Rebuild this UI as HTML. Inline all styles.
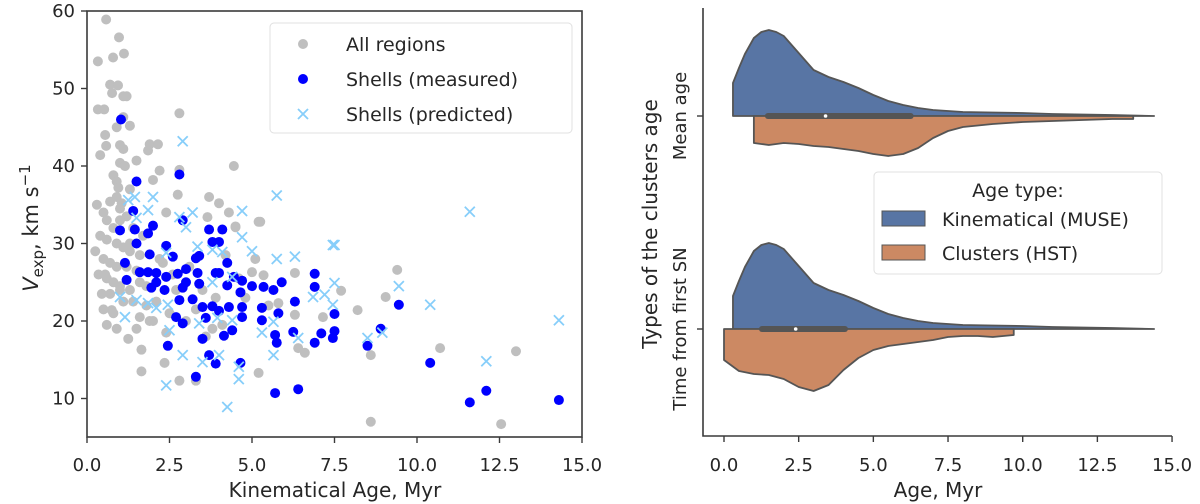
<!DOCTYPE html>
<html><head><meta charset="utf-8">
<style>
html,body{margin:0;padding:0;background:#fff;}
svg{display:block;font-family:"DejaVu Sans","Liberation Sans",sans-serif;}
text{fill:#262626;}
</style></head>
<body>
<svg id="chart" width="1200" height="504" viewBox="0 0 1200 504" xmlns="http://www.w3.org/2000/svg">
<defs><clipPath id="clipL"><rect x="87" y="11" width="495" height="426"/></clipPath></defs>
<g id="left"><g id="leftPts" clip-path="url(#clipL)"></g></g>
<g id="right"></g>
</svg>
<script>
// ---------- Left panel data ----------
const allAge = [0.58,0.97,0.33,0.79,1.12,0.7,0.94,0.76,1.1,1.2,0.33,0.52,2.8,1.1,0.9,1.3,0.55,0.58,1.0,1.1,0.4,1.9,2.15,1.85,1.5,1.0,1.15,4.45,2.2,2.8,0.8,2.0,0.9,0.95,2.75,3.7,4.0,0.7,1.05,2.4,4.3,3.65,5.2,4.5,
 9.4,7.7,9.05,8.2,8.6,10.7,13.0,8.6,12.55,
 0.75,1.25,1.65,1.65,2.35,2.8,3.3,5.2,5.8,6.3,6.4,6.6,6.3,7.15,4.5,5.25,5.0,5.35,
 0.3,0.5,0.6,0.8,1.0,1.2,1.4,0.4,0.6,0.9,1.1,1.3,1.6,0.5,0.7,0.9,1.2,1.5,0.35,0.6,0.8,1.0,1.3,0.45,0.7,1.0,1.4,1.8,0.5,0.8,1.1,1.6,2.0,0.6,0.9,1.3,1.7,0.25,0.55,1.0,
 2.3,2.6,3.1,3.5,3.9,4.2,4.8,5.5,2.5,3.0,3.3,3.8,4.6,5.1,2.2,2.7,3.6,4.1,1.9,2.4,1.5,1.8,2.1,1.3,1.6,0.9];
const allV = [58.9,56.6,53.5,54,54.5,50.5,50.4,49.4,49,49,47.3,47.3,46.8,46.3,45,45.2,44,42.6,42.7,42.2,41.4,42.8,42.8,42,40.7,40.4,40,40,39.4,39.5,38.8,38.2,38,37.2,36.3,36,35.2,35.4,35.2,34,34,33.4,32.8,32.2,
 26.6,23.9,23.1,21.4,15.6,16.5,16.1,7,6.7,
 21.4,17.7,16.3,13.5,14.6,12.3,12.3,13.3,22.3,20.8,16.5,15.9,26.2,20.5,32.1,32.8,26.3,25.9,
 35,34,33,32,34.5,33.5,32,31,30.5,30,29.5,29,28.5,28,27.5,27,27,26.5,26,25.5,25,24.5,24,23.5,23.5,24,22.5,22,21.5,21,22.5,20.5,20,19.5,19,30,31,29,26,33,
 27.5,26,27,24,23,28.5,23,22,21,20,21.5,19,25.5,28,28,24,18,19.5,20,18.5,19,24.5,22.5,37,25,36];
const shellAge = [1.03,1.5,2.8,1.4,2.9,2.0,3.7,4.1,1.45,1.0,
 1.85,1.5,2.4,3.8,4.0,1.9,2.6,3.3,3.4,4.25,1.15,1.6,1.85,2.1,2.4,2.75,3.0,3.35,3.9,4.0,4.45,4.7,1.2,2.1,3.0,3.4,4.25,5.0,5.35,5.65,5.9,6.9,6.9,1.95,2.35,2.9,4.65,2.8,3.2,3.5,3.8,4.0,4.3,4.7,4.7,5.3,5.3,5.8,6.3,7.5,2.7,2.9,3.6,4.4,4.15,3.5,5.7,5.75,6.25,6.9,7.1,7.45,2.45,3.7,3.9,4.65,3.3,5.7,6.4,
 7.5,8.5,8.9,9.45,10.4,11.6,12.1,14.3];
const shellV = [46,38,38.9,34.2,33,32.3,31.8,31.8,31.8,31.7,
 31.3,30,29.7,30.2,30.2,28.6,28.3,28.1,28.4,27.5,27.5,26.3,26.3,26.2,25.7,26.1,26.7,26.2,26.2,26.2,25.7,25.2,25.3,25,25,24.8,24.6,24.5,24.4,24,25,26.1,24.4,24.3,24,24.3,23.7,22.7,22.8,21.8,21.9,21.3,21.8,21.8,20.5,21.7,20.1,21,22.5,20.9,20.5,19.7,20.4,18.8,18.1,17.7,18.2,17.2,18.6,17.2,18.4,17.8,16.8,15.6,14.5,14.6,12.8,10.7,11.2,
 18.7,16.8,19,22.1,14.6,9.5,11,9.8];
const predAge = [2.9,1.45,2.0,5.75,1.85,4.7,3.2,1.5,2.8,1.25,
 11.6,7.5,7.5,9.45,10.4,8.5,8.95,12.1,14.3,7.45,
 3.0,4.7,7.45,3.35,3.8,4.1,5.0,5.75,6.3,2.4,3.8,4.4,1.0,1.5,1.85,2.45,1.15,2.1,6.85,7.2,3.95,4.4,3.4,5.3,5.65,2.5,6.4,2.9,4.0,3.5,4.6,5.65,2.4,4.25,4.6];
const predV = [43.2,36,36,36.2,34.3,34.2,34,33.3,33.4,35.6,
 34.1,29.8,24.9,24.5,22.1,17.8,18.5,14.8,20.1,22.1,
 32.1,30.8,29.8,29.6,29.2,28.9,29,28,28.3,28.8,25,25.7,23.1,22.7,22.3,22.1,20.5,21.7,23.1,23.4,20.4,20.1,19.7,18.5,19.9,18.8,17.8,15.6,15.6,14.7,12.5,15.6,11.7,8.9,14.1];
const xTicksL = [0,2.5,5,7.5,10,12.5,15];
const yTicksL = [10,20,30,40,50,60];

// ---------- Right panel data ----------
const vGrid = [0.3,0.5,0.7,1.0,1.25,1.5,1.75,2.0,2.5,3.0,3.5,4.0,4.5,5.0,5.5,6.0,6.5,7.0,7.5,8.0,9.0,10.0,11.0,12.0,13.0,14.4];
const kinDens = [33,48,62,78,84,86,84,80,63,46,39,34,28,21,15,11,8,6,5,4,3.5,3,2,1.5,1,0];
const clMeanGrid = [1.0,1.5,2.0,2.5,3.0,3.5,4.0,4.5,5.0,5.5,6.0,6.5,7.0,7.5,8.0,9.0,10.0,11.0,12.0,13.0,13.7];
const clMeanDens = [27,29,27,28,30,31,33,35,38,40,38,32,22,15,11,8,6,5,4,3,3];
const clSNGrid = [0.0,0.5,1.0,1.5,2.0,2.5,3.0,3.5,4.0,4.5,5.0,5.5,6.0,7.0,7.5,8.0,8.5,9.0,9.7];
const clSNDens = [31,42,45,46,50,58,62,56,41,29,21,17,15,11,8,7,7,8,6];
const boxMean = [1.47,3.4,6.25];
const boxSN = [1.27,2.4,4.05];
const xTicksR = [0,2.5,5,7.5,10,12.5,15];

const NS='http://www.w3.org/2000/svg';
function mk(tag, attrs, parent){const e=document.createElementNS(NS,tag);for(const k in attrs)e.setAttribute(k,attrs[k]);parent.appendChild(e);return e;}

// ---------- Left panel ----------
const L=document.getElementById('left');
const P=document.getElementById('leftPts');
const lx=v=>87+v*33, ly=v=>476-v*7.75;
const nAll=Math.min(allAge.length,allV.length);
for(let i=0;i<nAll;i++){
 const c=mk('circle',{cx:lx(allAge[i]),cy:ly(allV[i]),r:5,fill:'#bfbfbf'},P);
 
 
}
for(let i=0;i<Math.min(shellAge.length,shellV.length);i++){
 const c=mk('circle',{cx:lx(shellAge[i]),cy:ly(shellV[i]),r:5,fill:'#0000ff'},P);
 
 
}
for(let i=0;i<Math.min(predAge.length,predV.length);i++){
 const x=lx(predAge[i]),y=ly(predV[i]);
 const p=mk('path',{d:`M${x-5},${y-5}L${x+5},${y+5}M${x-5},${y+5}L${x+5},${y-5}`,stroke:'#87cefa','stroke-width':1.8,fill:'none'},P);
 
 
}
const frameL=mk('rect',{x:87,y:11,width:495,height:426,fill:'none',stroke:'#3a3a3a','stroke-width':1.6},L);


xTicksL.forEach(t=>{
 mk('line',{x1:lx(t),x2:lx(t),y1:437,y2:443,stroke:'#3a3a3a','stroke-width':1.4},L);
 const tx=mk('text',{x:lx(t),y:471,'text-anchor':'middle','font-size':18},L);
 tx.textContent=t.toFixed(1);
 
 
});
yTicksL.forEach(t=>{
 mk('line',{x1:81,x2:87,y1:ly(t),y2:ly(t),stroke:'#3a3a3a','stroke-width':1.4},L);
 const tx=mk('text',{x:75,y:ly(t)+6,'text-anchor':'end','font-size':18},L);
 tx.textContent=t;
 
 
});
</script>
<script>
(function(){
const L=document.getElementById('left');
L.insertAdjacentHTML('beforeend',`
<text x="335" y="497" text-anchor="middle" font-size="20">Kinematical Age, Myr</text>
<text transform="translate(38,228) rotate(-90)" text-anchor="middle" font-size="21"><tspan font-style="italic">V</tspan><tspan font-size="15" dy="5">exp</tspan><tspan dy="-5">, km s</tspan><tspan font-size="15" dy="-8">−1</tspan></text>
<g>
<rect x="270" y="23" width="302" height="110" rx="4" fill="#fff" fill-opacity="0.85" stroke="#e0e0e0"/>
<circle cx="303" cy="44" r="5" fill="#bfbfbf"/>
<text x="346" y="51" font-size="19">All regions</text>
<circle cx="303" cy="79" r="5" fill="#0000ff"/>
<text x="346" y="86" font-size="19">Shells (measured)</text>
<path d="M298,109L308,119M298,119L308,109" stroke="#87cefa" stroke-width="1.8"/>
<text x="346" y="121" font-size="19">Shells (predicted)</text>
</g>`);
})();
</script>
<script>
(function(){
const R=document.getElementById('right');
const rx=v=>724+v*29.87;
const cMean=116, cSN=329;
function half(grid,dens,cy,sign){
 let d=`M${rx(grid[0])},${cy}`;
 for(let i=0;i<grid.length;i++) d+=`L${rx(grid[i])},${cy+sign*dens[i]}`;
 d+=`L${rx(grid[grid.length-1])},${cy}Z`;
 return d;
}
const violins=[
 [vGrid,kinDens,cMean,-1,'#5875a4','violin-kinematical-mean-age'],
 [clMeanGrid,clMeanDens,cMean,1,'#cc8963','violin-clusters-mean-age'],
 [vGrid,kinDens,cSN,-1,'#5875a4','violin-kinematical-first-sn'],
 [clSNGrid,clSNDens,cSN,1,'#cc8963','violin-clusters-first-sn']];
violins.forEach(v=>{
 const p=mk('path',{d:half(v[0],v[1],v[2],v[3]),fill:v[4],stroke:'#555','stroke-width':1.8,'stroke-linejoin':'round'},R);
 
 
});
[[boxMean,cMean],[boxSN,cSN]].forEach(b=>{
 const bx=mk('line',{x1:rx(b[0][0]),x2:rx(b[0][2]),y1:b[1],y2:b[1],stroke:'#555','stroke-width':6,'stroke-linecap':'round'},R);
 
 
 const md=mk('circle',{cx:rx(b[0][1]),cy:b[1],r:1.8,fill:'#fff'},R);
 
 
});
const ax=mk('path',{d:'M703,8L703,436L1172,436',fill:'none',stroke:'#3a3a3a','stroke-width':1.6},R);


xTicksR.forEach(t=>{
 mk('line',{x1:rx(t),x2:rx(t),y1:436,y2:442,stroke:'#3a3a3a','stroke-width':1.4},R);
 const tx=mk('text',{x:rx(t),y:471,'text-anchor':'middle','font-size':18},R);
 tx.textContent=t.toFixed(1);
 
 
});
[cMean,cSN].forEach(c=>mk('line',{x1:697,x2:703,y1:c,y2:c,stroke:'#3a3a3a','stroke-width':1.4},R));
R.insertAdjacentHTML('beforeend',`
<text transform="translate(686,116) rotate(-90)" text-anchor="middle" font-size="18">Mean age</text>
<text transform="translate(686,329) rotate(-90)" text-anchor="middle" font-size="18">Time from first SN</text>
<text transform="translate(657,224) rotate(-90)" text-anchor="middle" font-size="20">Types of the clusters age</text>
<text x="938" y="497" text-anchor="middle" font-size="20">Age, Myr</text>
<g>
<rect x="874" y="172" width="288" height="102" rx="4" fill="#fff" fill-opacity="0.85" stroke="#e0e0e0"/>
<text x="1018" y="197" text-anchor="middle" font-size="19">Age type:</text>
<rect x="882" y="211" width="43" height="15" fill="#5875a4" stroke="#555"/>
<text x="942" y="226" font-size="19">Kinematical (MUSE)</text>
<rect x="882" y="245" width="43" height="15" fill="#cc8963" stroke="#555"/>
<text x="942" y="260" font-size="19">Clusters (HST)</text>
</g>`);
})();
</script>
</body></html>
